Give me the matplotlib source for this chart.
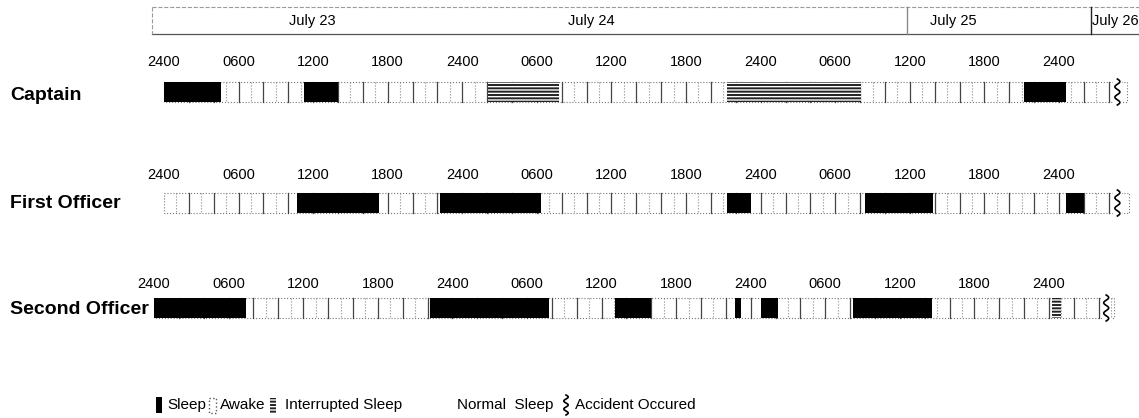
import numpy as np
import matplotlib
matplotlib.use("Agg")
import matplotlib.pyplot as plt
from matplotlib.patches import Rectangle

plt.rcParams['font.family'] = ['Liberation Sans', 'DejaVu Sans']
plt.rcParams['hatch.linewidth'] = 1.4

# hours are counted from the first 2400 mark of each crew row
crew = ["Captain", "First Officer", "Second Officer"]
sleep_captain = [(0, 4.6), (11.3, 14.0), (69.2, 72.6)]
sleep_first = [(10.7, 17.3), (22.2, 30.3), (45.3, 47.2), (56.4, 61.9), (72.6, 74.0)]
sleep_second = [(0, 7.4), (22.2, 31.8), (37.1, 40.0), (46.7, 47.2), (48.8, 50.2), (56.2, 62.6)]
interrupted_captain = [(26.1, 31.8), (45.3, 56.1)]
interrupted_first = []
interrupted_second = [(72.2, 73.0)]
accident_hour = [76.7, 76.7, 76.6]
record_end = [77.5, 77.6, 77.2]
clock_labels = ["2400", "0600", "1200", "1800"]
days = ["July 23", "July 24", "July 25", "July 26"]
day_mid = [11.9, 34.4, 63.5, 76.5]
day_breaks = [59.8, 74.6]

sleeps = [sleep_captain, sleep_first, sleep_second]
interrupted = [interrupted_captain, interrupted_first, interrupted_second]

# layout (pixels of the 1139x418 page)
W, H = 1139, 418
px_per_hour = 12.43
start_px = 164
row_top = [82, 193, 298]
bar_h = 20
row_shift = [0, 0, -0.8]
label_y = [62, 175, 284]
name_y = [96, 204, 310]

fig = plt.figure(figsize=(W / 100, H / 100), dpi=100)
ax = fig.add_axes([0, 0, 1, 1])
ax.set_xlim(-start_px / px_per_hour, (W - start_px) / px_per_hour)
ax.set_ylim(H, 0)
ax.axis('off')
lay = fig.add_axes([0, 0, 1, 1])
lay.set_xlim(0, W)
lay.set_ylim(H, 0)
lay.axis('off')
lay.patch.set_alpha(0)


def squiggle(axis, x, top, height, amp):
    t = np.linspace(0, 1, 80)
    axis.plot(x + amp * np.sin(t * 5 * np.pi), top + t * height,
              color='black', lw=1.2, zorder=6)


# header with the dates
x_right = (W - start_px) / px_per_hour
ax.plot([-1, x_right], [7, 7], color='#9a9a9a', ls='--', lw=0.8)
ax.plot([-1, x_right], [34, 34], color='#555555', lw=0.9)
ax.plot([-1, -1], [7, 34], color='#9a9a9a', ls='--', lw=0.8)
ax.plot([day_breaks[0]] * 2, [7, 34], color='#8a8a8a', lw=1.0)
ax.plot([day_breaks[1]] * 2, [7, 34], color='#222222', lw=1.0)
for name, mid in zip(days, day_mid):
    ax.text(mid, 21, name, ha='center', va='center', fontsize=10.5)

for i, name in enumerate(crew):
    s = row_shift[i]
    top = row_top[i]
    ax.add_patch(Rectangle((s, top), record_end[i], bar_h, fc='white', ec='#777777',
                           ls=':', lw=0.8, zorder=1))
    for h in range(1, int(record_end[i]) + 1):
        if h % 2 == 0:
            ax.plot([s + h, s + h], [top, top + bar_h], color='#444444', lw=0.9, zorder=2)
        else:
            ax.plot([s + h, s + h], [top, top + bar_h], color='#8a8a8a', ls=':', lw=0.8, zorder=2)
    for a, b in sleeps[i]:
        ax.add_patch(Rectangle((s + a, top), b - a, bar_h, fc='black', ec='none', zorder=3))
    for a, b in interrupted[i]:
        ax.add_patch(Rectangle((s + a, top), b - a, bar_h, fc='white', ec='#222222',
                               hatch='-----', lw=0, zorder=3))
    ax.add_patch(Rectangle((s + accident_hour[i] - 0.35, top - 3), 0.7, bar_h + 6,
                           fc='white', ec='none', zorder=5))
    squiggle(ax, s + accident_hour[i], top - 3, bar_h + 6, 0.2)
    for k in range(13):
        ax.text(s + 6 * k, label_y[i], clock_labels[k % 4], ha='center', va='center', fontsize=10.5)
    lay.text(10, name_y[i], name, ha='left', va='center', fontsize=14, fontweight='bold')

# legend
ly = 405
lay.add_patch(Rectangle((156, 397), 6, 16, fc='black', ec='none'))
lay.text(167, ly, "Sleep", va='center', fontsize=11)
lay.add_patch(Rectangle((209, 398), 7, 15, fc='white', ec='#555555', ls=':', lw=1.0))
lay.text(220, ly, "Awake", va='center', fontsize=11)
lay.add_patch(Rectangle((270, 398), 6, 15, fc='white', ec='#222222', hatch='-----', lw=0))
lay.text(285, ly, "Interrupted Sleep", va='center', fontsize=11)
lay.text(457, ly, "Normal  Sleep", va='center', fontsize=11)
squiggle(lay, 566, 395, 20, 2.2)
lay.text(575, ly, "Accident Occured", va='center', fontsize=11)

fig.savefig("out.png", dpi=100)
